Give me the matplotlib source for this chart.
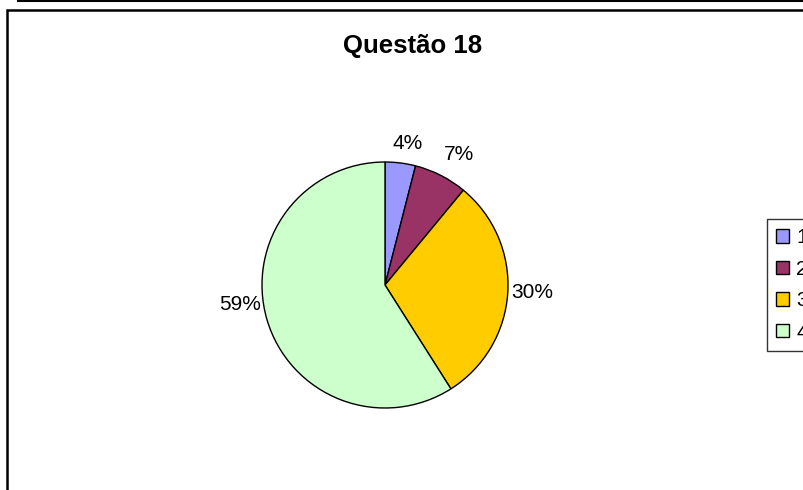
import matplotlib.pyplot as plt
from matplotlib.patches import Rectangle
from matplotlib.lines import Line2D

plt.rcParams['font.family'] = ['Liberation Sans', 'DejaVu Sans']

# data
categories = ['1', '2', '3', '4']
values = [4, 7, 30, 59]
colors = ['#9999FF', '#993366', '#FFCC00', '#CCFFCC']
title = 'Questão 18'

# label positions (in pie-radius units), as Excel placed them
label_xy = [(0.18, 1.15), (0.60, 1.06), (1.20, -0.06), (-1.18, -0.16)]

W, H = 804, 490
fig = plt.figure(figsize=(W / 100, H / 100), dpi=100)

# outer lines / chart frame (frame runs off the right and bottom edge)
fig.add_artist(Line2D([18 / W, 1.0], [1 - 1 / H, 1 - 1 / H], color='black', lw=1.5,
                      transform=fig.transFigure))
fig.add_artist(Rectangle((7 / W, -0.1), 1.2, 1 - 10 / H + 0.1, transform=fig.transFigure,
                         fill=False, edgecolor='black', lw=1.8))

fig.text(413 / W, 1 - 46 / H, title, ha='center', va='center',
         fontsize=18.5, fontweight='bold')

# pie axes: centre (385, 285), radius 123 px
cx, cy, r = 385, 285, 123
ax = fig.add_axes([(cx - r) / W, (H - cy - r) / H, 2 * r / W, 2 * r / H])
wedges, texts, autotexts = ax.pie(values, colors=colors, startangle=90, counterclock=False,
                                  autopct='%1.0f%%', pctdistance=1.2,
                                  wedgeprops=dict(edgecolor='black', linewidth=1))
for t, xy in zip(autotexts, label_xy):
    t.set_fontsize(15)
    t.set_position(xy)
ax.set_xlim(-1, 1)
ax.set_ylim(-1, 1)
ax.set_aspect('auto')
ax.axis('off')

# legend, partly cut off at right edge (as in the original)
leg = fig.legend(wedges, categories, loc='upper left',
                 bbox_to_anchor=(767 / W, 1 - 219 / H), fontsize=15,
                 frameon=True, fancybox=False, edgecolor='black',
                 handlelength=0.6, handleheight=0.6, handletextpad=0.35,
                 labelspacing=0.6, borderpad=0.45, borderaxespad=0)
leg.get_frame().set_linewidth(1)

fig.savefig('out.png', dpi=100)
